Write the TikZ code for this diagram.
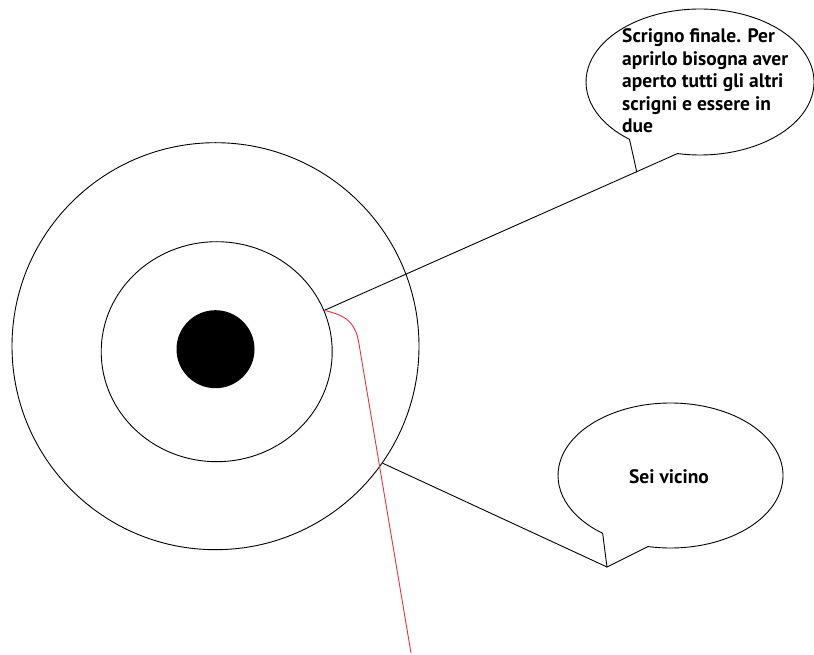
\documentclass[tikz,border=0pt]{standalone}
\usepackage{fontspec}
\setmainfont{PT Sans}
\usepackage{xcolor}
\usetikzlibrary{shapes.geometric,calc}
\definecolor{TrailRed}{HTML}{E23440}

\begin{document}
\begin{tikzpicture}[x=1pt,y=1pt,
  every node/.style={font=\bfseries\fontsize{19.5}{22.5}\selectfont},
  ring/.style={circle,draw=black,line width=0.9pt,minimum size=#1,inner sep=0pt},
  oval/.style={ellipse,draw=black,line width=0.9pt,inner sep=0pt},
  core/.style={circle,fill=black,minimum size=#1,inner sep=0pt},
  lead/.style={line width=0.9pt,black},
  trail/.style={line width=0.9pt,TrailRed},
  bubble/.style={line width=0.9pt,draw=black,line join=miter}
]
\useasboundingbox (0,0) rectangle (814,654);
\node[ring=407pt] (outer) at (215.5,307.8) {};
\node[oval,minimum width=231pt,minimum height=220pt] (inner) at (216.7,302.3) {};
\node[core=78pt] (dot) at (215.5,304.8) {};
\coordinate (bubA) at (700,572);
\coordinate (tipA) at (636.7,482.3);
\coordinate (bubB) at (670.5,178.5);
\coordinate (tipB) at (607,87);
\coordinate (redend) at (411,1);
\draw[bubble] (bubA) ++(258.6:114 and 73) arc[start angle=258.6,end angle=591.8,x radius=114,y radius=73] -- (tipA) -- cycle;
\draw[bubble] (bubB) ++(258.5:112.5 and 72.5) arc[start angle=258.5,end angle=592.9,x radius=112.5,y radius=72.5] -- (tipB) -- cycle;
\node[anchor=base west,align=left,inner sep=0pt] (chest) at (622,521) {Scrigno finale. Per\\aprirlo bisogna aver\\aperto tutti gli altri\\scrigni e essere in\\due};
\node[anchor=base,inner sep=0pt] (near) at (669,170.7) {Sei vicino};
\draw[lead] (inner.21) -- (tipA);
\draw[lead] (outer.-35) -- (tipB);
\draw[trail] (inner.21) .. controls (350,338) and (356,328) .. (359,310) -- (redend);
\end{tikzpicture}
\end{document}
